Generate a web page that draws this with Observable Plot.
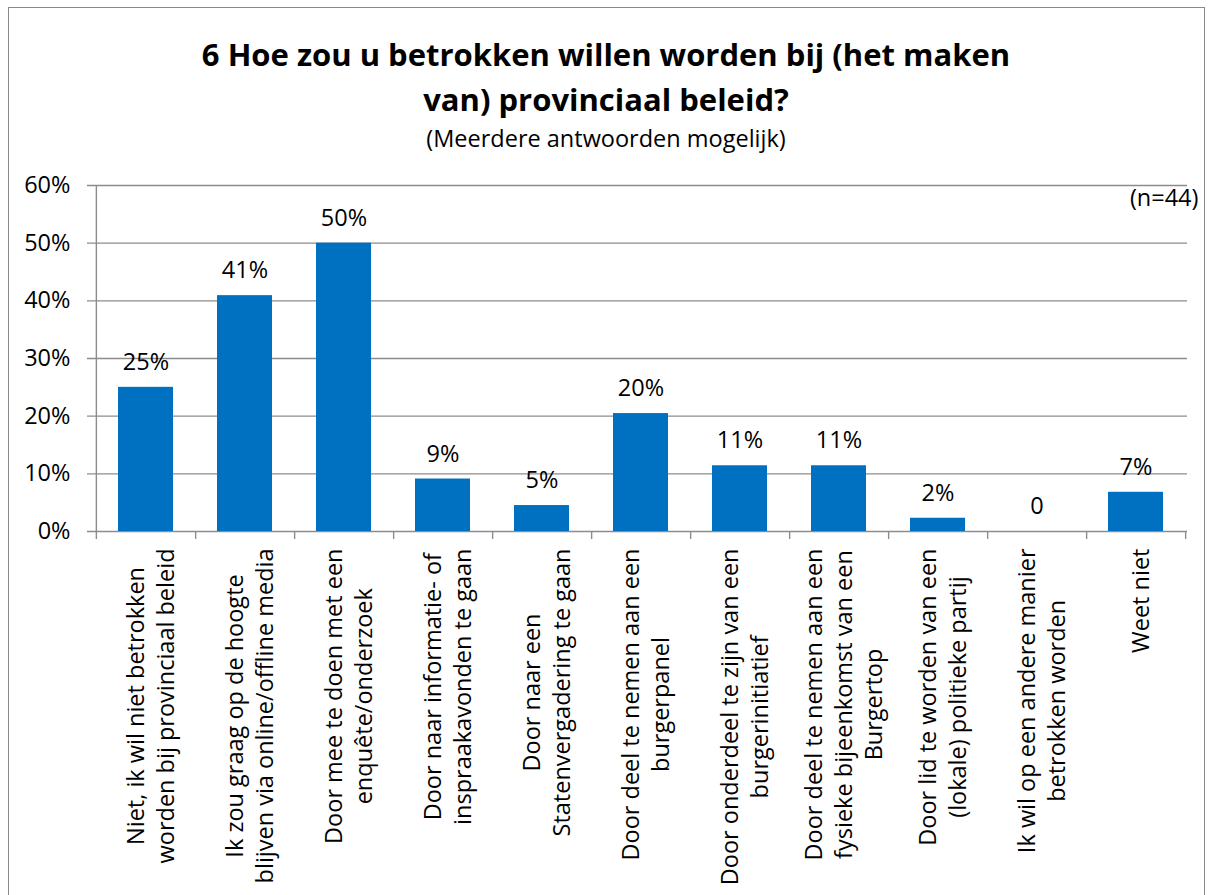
<!DOCTYPE html>
<html>
<head>
<meta charset="utf-8">
<script src="https://cdn.jsdelivr.net/npm/d3@7"></script>
<script src="https://cdn.jsdelivr.net/npm/@observablehq/plot@0.6"></script>
<style>
  html, body { margin: 0; padding: 0; background: #fff; overflow: hidden; }
  #wrap { position: relative; width: 1212px; height: 895px; font-family: "Open Sans", sans-serif; }
  #border { position: absolute; left: 8px; top: 7px; width: 1197px; height: 920px; border: 1.5px solid #8a8a8a; box-sizing: border-box; }
  #title { position: absolute; left: 0; width: 1212px; top: 32px; text-align: center; font-weight: bold; font-size: 31px; line-height: 45px; color: #000; }
  #subtitle { position: absolute; left: 0; width: 1212px; top: 124px; text-align: center; font-size: 23.5px; line-height: 28px; color: #000; }
  #chart { position: absolute; left: 0; top: 175px; }
</style>
</head>
<body>
<div id="wrap">
  <div id="border"></div>
  <div id="title">6 Hoe zou u betrokken willen worden bij (het maken<br>van) provinciaal beleid?</div>
  <div id="subtitle">(Meerdere antwoorden mogelijk)</div>
  <div id="chart"></div>
</div>
<script>
const categories = [
  "Niet, ik wil niet betrokken\nworden bij provinciaal beleid",
  "Ik zou graag op de hoogte\nblijven via online/offline media",
  "Door mee te doen met een\nenquête/onderzoek",
  "Door naar informatie- of\ninspraakavonden te gaan",
  "Door naar een\nStatenvergadering te gaan",
  "Door deel te nemen aan een\nburgerpanel",
  "Door onderdeel te zijn van een\nburgerinitiatief",
  "Door deel te nemen aan een\nfysieke bijeenkomst van een\nBurgertop",
  "Door lid te worden van een\n(lokale) politieke partij",
  "Ik wil op een andere manier\nbetrokken worden",
  "Weet niet"
];
const values = [0.25, 0.409, 0.50, 0.091, 0.045, 0.2045, 0.114, 0.114, 0.023, 0, 0.068];
const yTicks = [0, 0.1, 0.2, 0.3, 0.4, 0.5, 0.6];
const sampleNote = "(n=44)";

const data = categories.map((c, i) => ({cat: c, v: values[i]}));

const W = 1212, H = 720;
const mL = 95, mR = 25, mT = 10, mB = 364;
const plotW = W - mL - mR, plotH = H - mT - mB;
const step = plotW / categories.length;
const yMax = 0.6;
const tickLen = 8 * yMax / plotH;
const FONT = "'Open Sans', sans-serif";
const labelSize = 23.5;
const textSize = 23.5;
const lineH = 1.28;

// measure label widths for centred multi-line rotated labels
const ctx = document.createElement("canvas").getContext("2d");
ctx.font = `${labelSize}px 'Open Sans'`;
const maxW = categories.map(c => Math.max(...c.split("\n").map(l => ctx.measureText(l).width)));

const labelMarks = categories.map((c, i) =>
  Plot.text([c], {
    x: d => d, y: () => 0, text: d => d,
    rotate: -90, textAnchor: "middle", lineAnchor: "middle", lineHeight: lineH,
    fontSize: labelSize, fill: "#000",
    dx: 3, dy: 17 + maxW[i] / 2
  })
);

const chart = Plot.plot({
  width: W, height: H,
  marginLeft: mL, marginRight: mR, marginTop: mT, marginBottom: mB,
  style: {fontFamily: FONT, fontSize: textSize + "px", color: "#000", background: "transparent", overflow: "visible"},
  x: {domain: categories, paddingInner: 0.44, paddingOuter: 0.22, axis: null},
  y: {domain: [0, yMax], ticks: yTicks, tickFormat: d => Math.round(d * 100) + "%", tickSize: 0, tickPadding: 25, label: null},
  marks: [
    Plot.ruleY(yTicks, {y: d => d, stroke: "#8c8c8c", strokeWidth: 1.4, insetLeft: -8}),
    Plot.barY(data, {x: "cat", y: "v", fill: "#0070C0"}),
    // left axis line
    Plot.ruleX([categories[0]], {x: d => d, y1: -tickLen, y2: yMax, dx: -step / 2, stroke: "#8c8c8c", strokeWidth: 1.4}),
    // category boundary ticks
    Plot.ruleX(categories, {x: d => d, y1: -tickLen, y2: 0, dx: step / 2, stroke: "#8c8c8c", strokeWidth: 1.4}),
    Plot.text(data, {x: "cat", y: "v", text: d => d.v === 0 ? "0" : Math.round(d.v * 100) + "%", dy: -25, fontSize: textSize, fill: "#000", lineAnchor: "middle"}),
    Plot.text([sampleNote], {frameAnchor: "top-right", text: d => d, dx: 11, dy: 13, fontSize: textSize, fill: "#000", lineAnchor: "middle"}),
    ...labelMarks
  ]
});
document.getElementById("chart").appendChild(chart);
</script>
</body>
</html>
